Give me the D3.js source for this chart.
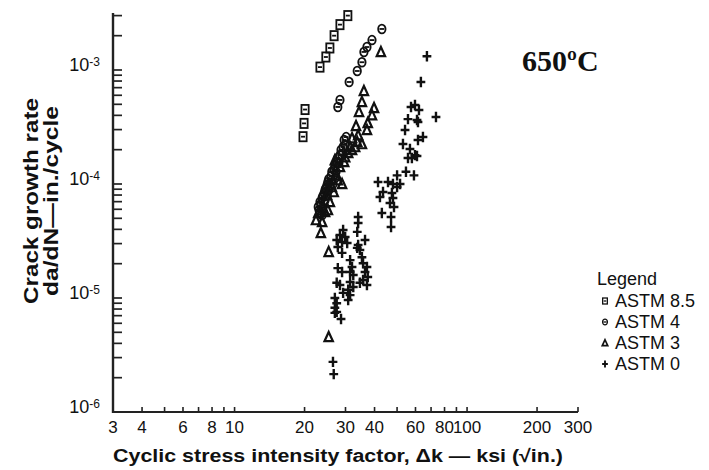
<!DOCTYPE html>
<html>
<head>
<meta charset="utf-8">
<script src="https://cdn.jsdelivr.net/npm/d3@7"></script>
<style>
  body { margin: 0; background: #fff; }
  svg { display: block; }
  text { font-family: "Liberation Sans", Arial, Helvetica, sans-serif; fill: #111; }
</style>
</head>
<body>
<div class="chart"></div>
<script>
const width = 709,
      height = 470;

// --- data (stress intensity range in ksi*sqrt(in), growth rate in in/cycle)
const astm85K    = [30.7, 28.4, 26.8, 25.7, 24.7, 23.3, 20.1, 19.9, 19.7];
const astm85Rate = [3.0e-3, 2.5e-3, 2.0e-3, 1.56e-3, 1.3e-3, 1.06e-3, 4.5e-4, 3.4e-4, 2.6e-4];

const astm4K    = [43.0, 39.0, 37.1, 36.0, 35.3, 33.7, 31.1, 28.4, 27.8, 30.2, 29.3, 28.4, 27.5,
                   26.7, 26.0, 25.2, 24.7, 24.3, 23.8, 23.5, 23.1, 23.8, 24.5, 25.7, 27.0, 25.0,
                   29.6, 28.7, 27.8, 27.0, 26.2, 25.4, 25.0, 24.5, 24.0, 23.3, 22.9, 23.3, 25.4,
                   26.5, 27.3, 28.1, 29.0, 29.9];
const astm4Rate = [2.29e-3, 1.83e-3, 1.59e-3, 1.44e-3, 1.17e-3, 9.8e-4, 7.85e-4, 5.46e-4, 4.74e-4,
                   2.58e-4, 2.11e-4, 1.79e-4, 1.53e-4, 1.33e-4, 1.17e-4, 1.04e-4, 9.2e-5, 8.34e-5,
                   7.53e-5, 6.68e-5, 5.91e-5, 5.35e-5, 7.24e-5, 9.8e-5, 1.12e-4, 8.0e-5,
                   2.43e-4, 1.99e-4, 1.69e-4, 1.44e-4, 1.28e-4, 1.10e-4, 9.8e-5, 8.86e-5, 7.84e-5,
                   6.96e-5, 6.28e-5, 5.68e-5, 8.86e-5, 1.0e-4, 1.28e-4, 1.53e-4, 1.79e-4, 2.2e-4];

const astm3K    = [42.6, 36.0, 35.3, 39.8, 34.3, 39.0, 37.4, 37.1, 33.3, 33.7, 35.3, 33.0, 30.8,
                   29.9, 28.4, 27.5, 29.0, 26.2, 25.0, 25.7, 24.0, 22.9, 23.8, 23.5, 25.4, 25.4,
                   32.0, 27.0, 25.2, 22.4, 32.0, 34.0, 31.4, 29.6, 27.8, 26.7, 24.5];
const astm3Rate = [1.44e-3, 6.55e-4, 5.25e-4, 4.64e-4, 4.29e-4, 4.02e-4, 3.43e-4, 2.98e-4, 3.23e-4,
                   2.34e-4, 2.24e-4, 2.11e-4, 1.87e-4, 1.72e-4, 1.41e-4, 1.19e-4, 1.0e-4, 9.4e-5,
                   8.0e-5, 6.96e-5, 6.15e-5, 5.56e-5, 4.64e-5, 3.72e-5, 2.54e-5, 4.55e-6,
                   1.99e-4, 1.62e-4, 5.91e-5, 4.83e-5, 2.53e-4, 2.68e-4, 2.11e-4, 1.56e-4,
                   1.08e-4, 8.5e-5, 5.68e-5];

const astm0K    = [67.2, 63.3, 57.4, 59.7, 62.1, 73.5, 55.7, 60.9, 61.5, 54.1, 64.6, 61.5, 53.0,
                   56.8, 59.7, 60.9, 55.7, 57.9, 54.6, 59.1, 50.0, 41.4, 45.7, 48.0, 51.5, 50.0,
                   43.5, 47.5, 42.2, 48.0, 46.6, 48.5, 43.0, 47.1, 47.1,
                   34.0, 34.0, 33.7, 29.3, 28.4, 29.9, 27.5, 29.0, 30.5, 27.8, 29.0, 36.4, 34.0,
                   34.6, 35.3, 33.7, 31.4, 32.0, 35.7, 37.1, 36.4, 37.4, 35.7, 27.8, 29.0, 31.4,
                   32.4, 27.5, 28.4, 31.4, 32.4, 30.8, 34.6, 37.1, 29.3, 31.4, 30.8, 27.0, 27.5,
                   27.0, 27.5, 27.0, 28.7, 26.5, 26.7];
const astm0Rate = [1.32e-3, 7.85e-4, 4.74e-4, 4.93e-4, 4.46e-4, 3.87e-4, 3.71e-4, 3.64e-4, 3.5e-4,
                   2.98e-4, 2.58e-4, 2.43e-4, 2.24e-4, 2.03e-4, 1.79e-4, 1.76e-4, 1.69e-4, 1.69e-4,
                   1.28e-4, 1.19e-4, 1.19e-4, 1.04e-4, 1.04e-4, 1.0e-4, 1.0e-4, 9.4e-5, 8.5e-5,
                   8.34e-5, 7.69e-5, 7.53e-5, 6.82e-5, 6.28e-5, 5.56e-5, 5.13e-5, 4.19e-5,
                   5.13e-5, 4.55e-5, 3.8e-5, 3.95e-5, 3.57e-5, 3.43e-5, 3.23e-5, 3.1e-5, 3.04e-5,
                   2.8e-5, 2.49e-5, 3.23e-5, 2.92e-5, 2.64e-5, 2.28e-5, 2.75e-5, 2.15e-5, 1.87e-5,
                   2.02e-5, 1.87e-5, 1.69e-5, 1.53e-5, 1.44e-5, 1.83e-5, 1.69e-5, 1.69e-5, 1.59e-5,
                   1.36e-5, 1.30e-5, 1.38e-5, 1.25e-5, 1.18e-5, 1.36e-5, 1.30e-5, 1.11e-5, 1.06e-5,
                   9.6e-6, 1.0e-5, 9.0e-6, 8.2e-6, 7.55e-6, 7.4e-6, 6.54e-6, 2.75e-6, 2.15e-6];

const legendLabels = ["ASTM 8.5", "ASTM 4", "ASTM 3", "ASTM 0"];
const xTickLabels = [3, 4, 6, 8, 10, 20, 30, 40, 60, 80, 100, 200, 300];
const yTickLabels = [1e-6, 1e-5, 1e-4, 1e-3];

const svg = d3.select(".chart")
              .append("svg")
              .attr("width", width)
              .attr("height", height)
              .attr("viewBox", [0, 0, width, height]);

const x = d3.scaleLog().domain([3, 300]).range([113, 578]);
const y = d3.scaleLog().domain([1e-6, 3e-3]).range([412, 15.6]);

// minor + major ticks, every 1..9 of each decade
var yTicks = [];
for (var e = -6; e <= -3; e++)
    for (var k = 1; k <= 9; k++)
        if (k * Math.pow(10, e) <= 3.01e-3) yTicks.push(k * Math.pow(10, e));
var xTicks = [];
for (var e = 0; e <= 2; e++)
    for (var k = 1; k <= 9; k++)
        if (k * Math.pow(10, e) >= 3 && k * Math.pow(10, e) <= 300) xTicks.push(k * Math.pow(10, e));

var axes = svg.append("g").classed("axes", true).attr("stroke", "#222");

// y axis, ticks pointing into the plot
axes.append("line")
    .attr("x1", x.range()[0]).attr("x2", x.range()[0])
    .attr("y1", 13).attr("y2", y.range()[0] + 1)
    .attr("stroke-width", 2.4);
axes.selectAll(".ytick")
    .data(yTicks).enter().append("line")
    .attr("class", "ytick")
    .attr("x1", x.range()[0]).attr("x2", x.range()[0] + 9)
    .attr("y1", d => y(d)).attr("y2", d => y(d))
    .attr("stroke-width", 1.7);

svg.selectAll(".ylab")
  .data(yTickLabels)
  .enter().append("text")
  .attr("class", "ylab")
  .attr("x", x.range()[0] - 13)
  .attr("y", d => y(d) + 1)
  .attr("text-anchor", "end")
  .style("font-size", "18px")
  .each(function(d) {
      var t = d3.select(this);
      t.append("tspan").text("10");
      t.append("tspan").attr("dy", -5).style("font-size", "12px").text(Math.round(Math.log10(d)));
  });

// x axis, ticks pointing up
axes.append("line")
    .attr("x1", x.range()[0]).attr("x2", x.range()[1])
    .attr("y1", y.range()[0]).attr("y2", y.range()[0])
    .attr("stroke-width", 1.8);
axes.selectAll(".xtick")
    .data(xTicks).enter().append("line")
    .attr("class", "xtick")
    .attr("x1", d => x(d)).attr("x2", d => x(d))
    .attr("y1", y.range()[0]).attr("y2", y.range()[0] - 5)
    .attr("stroke-width", 1.6);

svg.selectAll(".xlab")
   .data(xTickLabels).enter().append("text")
   .attr("class", "xlab")
   .attr("x", d => x(d)).attr("y", 433)
   .attr("text-anchor", "middle")
   .style("font-size", "17px")
   .text(d => d);

// axis titles
svg.append("text")
   .attr("x", 113).attr("y", 462)
   .attr("textLength", 450).attr("lengthAdjust", "spacingAndGlyphs")
   .style("font-size", "18px").style("font-weight", "bold")
   .text("Cyclic stress intensity factor, \u0394k \u2014 ksi (\u221Ain.)");

var yt = svg.append("text")
   .attr("transform", "translate(0,201) rotate(-90)")
   .attr("text-anchor", "middle")
   .style("font-size", "21px").style("font-weight", "bold");
yt.append("tspan").attr("x", 0).attr("y", 38).attr("textLength", 206).attr("lengthAdjust", "spacingAndGlyphs")
  .text("Crack growth rate");
yt.append("tspan").attr("x", 0).attr("y", 58).attr("textLength", 190).attr("lengthAdjust", "spacingAndGlyphs")
  .text("da/dN\u2014in./cycle");

svg.append("text")
   .attr("x", 522).attr("y", 71)
   .style("font-family", "'Liberation Serif', 'Times New Roman', serif")
   .style("font-size", "30px").style("font-weight", "bold")
   .text("650\u00BAC");

// markers
function marker(sel, kind, s) {
    if (kind == 0) {
        sel.append("rect").attr("x", -3.6 * s).attr("y", -4.6 * s).attr("width", 7.2 * s).attr("height", 9.2 * s);
        sel.append("path").attr("d", "M" + (-2 * s) + ",0H" + (2 * s));
    } else if (kind == 1) {
        sel.append("ellipse").attr("rx", 3.7 * s).attr("ry", 4.4 * s);
        sel.append("path").attr("d", "M" + (-2.4 * s) + ",0H" + (2.4 * s));
    } else if (kind == 2) {
        sel.append("path").attr("d", "M0," + (-5 * s) + "L" + (4.2 * s) + "," + (4.2 * s) + "L" + (-4.2 * s) + "," + (4.2 * s) + "Z")
           .attr("stroke-width", 2.2 * Math.min(1, s * 1.2));
    } else {
        sel.append("path").attr("d", "M0," + (-5.2 * s) + "V" + (5.2 * s) + "M" + (-4.4 * s) + ",0H" + (4.4 * s))
           .attr("stroke-width", 2.4 * Math.min(1, s * 1.2));
    }
}

const series = [
    [astm85K, astm85Rate],
    [astm4K, astm4Rate],
    [astm3K, astm3Rate],
    [astm0K, astm0Rate]
];

var pts = svg.append("g").classed("points", true)
             .attr("fill", "none").attr("stroke", "#111").attr("stroke-width", 1.8);

series.forEach(function(s, i) {
    var data = s[0].map((k, j) => ({k: k, r: s[1][j]}));
    pts.append("g").selectAll("g")
       .data(data).enter().append("g")
       .attr("transform", d => "translate(" + x(d.k) + "," + y(d.r) + ")")
       .each(function() { marker(d3.select(this), i, 1); });
});

// legend
var lg = svg.append("g").attr("transform", "translate(597,0)");
lg.append("text").attr("x", 0).attr("y", 285).style("font-size", "18px").text("Legend");
var items = lg.selectAll(".item").data(legendLabels).enter().append("g")
              .attr("class", "item")
              .attr("transform", (d, i) => "translate(0," + (307 + i * 21) + ")");
items.append("g").attr("transform", "translate(8,-6)")
     .attr("fill", "none").attr("stroke", "#111").attr("stroke-width", 1.3)
     .each(function(d, i) { marker(d3.select(this), i, 0.65); });
items.append("text").attr("x", 18).attr("y", 0).style("font-size", "18px").text(d => d);
</script>
</body>
</html>
